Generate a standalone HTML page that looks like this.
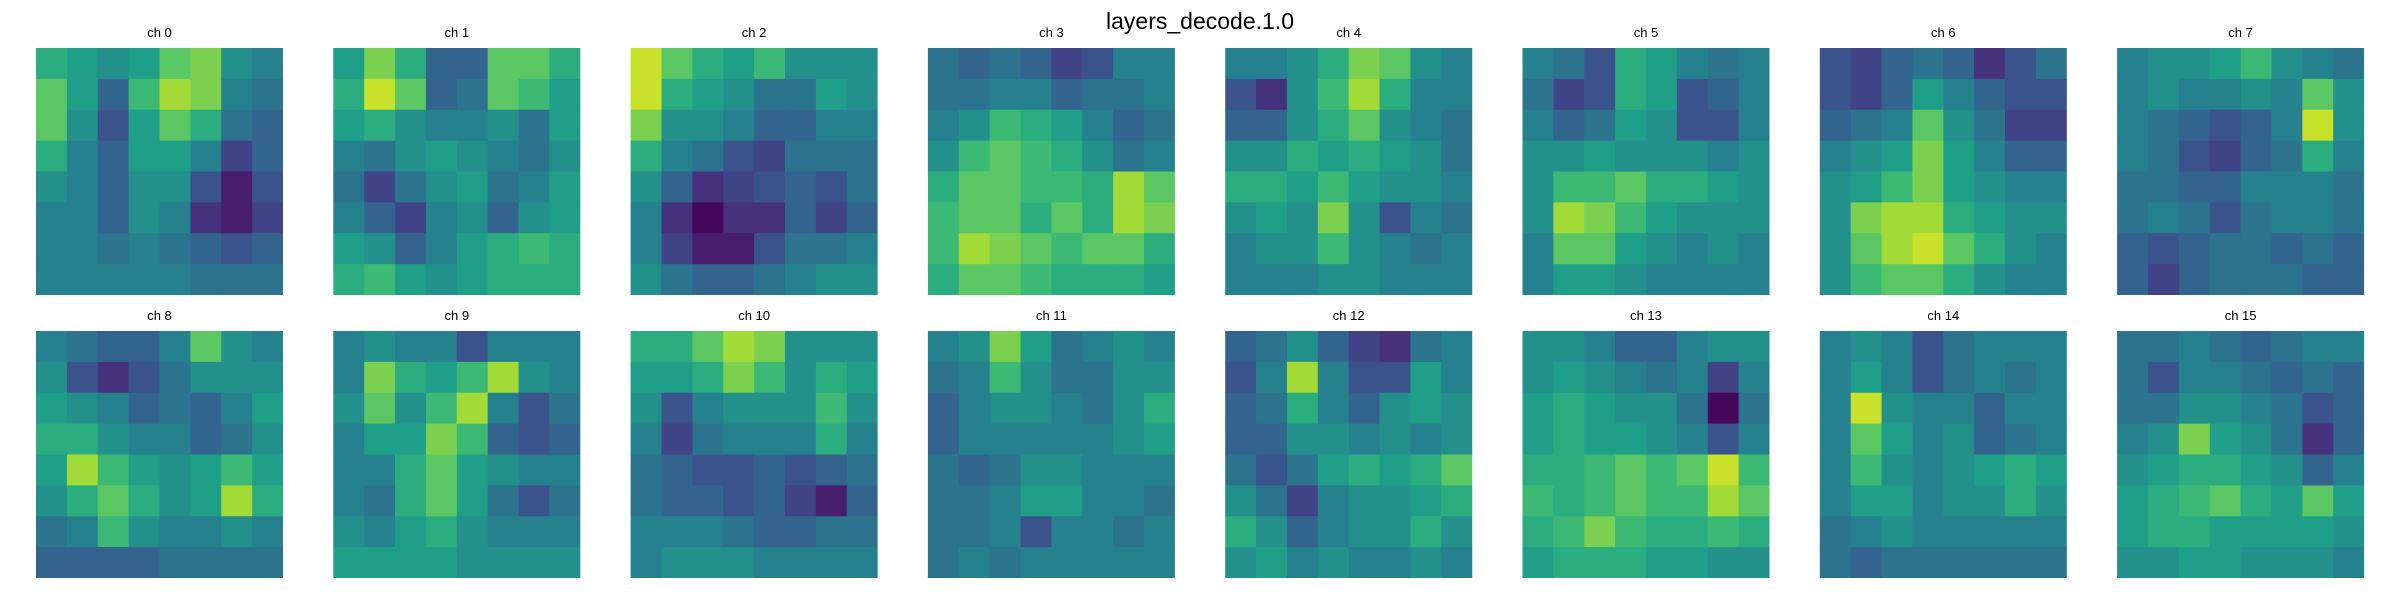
<!DOCTYPE html>
<html><head><meta charset="utf-8"><style>
html,body{margin:0;padding:0;background:#fff;width:2400px;height:600px;overflow:hidden}
svg{display:block;font-family:"Liberation Sans","DejaVu Sans",sans-serif}
</style></head><body>
<svg id="fig" width="2400" height="600" xmlns="http://www.w3.org/2000/svg">
<rect width="2400" height="600" fill="#fff"/>
<text x="1200" y="29" text-anchor="middle" font-size="23" fill="#000">layers_decode.1.0</text>
</svg>
<script>
const channelLabels = ["ch 0","ch 1","ch 2","ch 3","ch 4","ch 5","ch 6","ch 7","ch 8","ch 9","ch 10","ch 11","ch 12","ch 13","ch 14","ch 15"];
const ch0 = [[.6,.55,.5,.55,.7,.75,.5,.45],[.7,.55,.35,.65,.8,.75,.45,.4],[.7,.5,.3,.55,.7,.6,.4,.35],[.6,.45,.35,.55,.55,.45,.25,.35],[.5,.45,.35,.5,.5,.3,.15,.3],[.45,.45,.35,.5,.45,.2,.15,.25],[.45,.45,.4,.45,.4,.35,.3,.35],[.45,.45,.45,.45,.45,.4,.4,.4]];
const ch1 = [[.55,.75,.6,.35,.35,.7,.7,.6],[.6,.85,.7,.35,.4,.7,.65,.55],[.55,.6,.5,.45,.45,.5,.4,.55],[.45,.4,.5,.55,.5,.45,.4,.5],[.4,.25,.4,.5,.55,.4,.45,.55],[.45,.35,.25,.45,.5,.35,.5,.55],[.55,.5,.35,.45,.55,.6,.65,.6],[.6,.65,.55,.5,.55,.6,.6,.6]];
const ch2 = [[.85,.7,.6,.55,.65,.5,.5,.5],[.85,.6,.55,.5,.4,.4,.55,.5],[.75,.5,.5,.45,.35,.35,.45,.45],[.6,.45,.4,.3,.25,.4,.4,.4],[.5,.35,.2,.25,.3,.35,.3,.4],[.45,.2,.1,.2,.2,.35,.25,.35],[.45,.25,.15,.15,.3,.4,.4,.45],[.5,.4,.35,.35,.4,.45,.5,.5]];
const ch3 = [[.4,.35,.4,.35,.25,.3,.45,.45],[.4,.4,.45,.45,.35,.4,.4,.45],[.45,.5,.65,.6,.55,.45,.35,.4],[.5,.65,.7,.65,.6,.5,.4,.45],[.6,.7,.7,.65,.65,.6,.8,.7],[.65,.7,.7,.6,.7,.6,.8,.75],[.65,.8,.75,.7,.65,.7,.7,.6],[.6,.7,.7,.65,.6,.6,.6,.55]];
const ch4 = [[.45,.45,.5,.6,.75,.7,.5,.45],[.3,.2,.5,.65,.8,.6,.45,.45],[.35,.35,.5,.6,.7,.5,.45,.4],[.5,.5,.6,.55,.6,.55,.5,.4],[.6,.6,.55,.65,.55,.5,.5,.45],[.5,.55,.5,.75,.5,.3,.45,.4],[.45,.5,.5,.65,.5,.45,.4,.45],[.45,.45,.45,.5,.5,.45,.45,.45]];
const ch5 = [[.45,.4,.3,.6,.55,.45,.4,.45],[.4,.25,.3,.6,.55,.3,.35,.45],[.45,.35,.4,.55,.5,.3,.3,.45],[.5,.5,.55,.5,.5,.5,.45,.5],[.5,.65,.65,.7,.6,.6,.55,.5],[.5,.8,.75,.65,.55,.5,.5,.5],[.45,.7,.7,.55,.5,.45,.5,.45],[.45,.55,.55,.5,.45,.45,.45,.45]];
const ch6 = [[.3,.25,.35,.4,.35,.2,.3,.4],[.3,.25,.35,.55,.45,.35,.3,.3],[.35,.4,.45,.7,.5,.4,.25,.25],[.45,.5,.55,.75,.55,.45,.35,.35],[.5,.55,.65,.75,.55,.5,.45,.45],[.5,.75,.8,.8,.6,.55,.5,.5],[.5,.7,.8,.85,.7,.6,.5,.45],[.5,.65,.7,.7,.6,.5,.45,.45]];
const ch7 = [[.45,.5,.5,.55,.65,.5,.45,.4],[.45,.5,.45,.45,.5,.45,.7,.5],[.45,.4,.35,.3,.35,.45,.85,.5],[.45,.4,.3,.25,.35,.4,.6,.45],[.4,.4,.35,.35,.45,.45,.45,.4],[.4,.45,.4,.3,.4,.45,.45,.4],[.35,.3,.35,.4,.4,.35,.4,.35],[.35,.25,.35,.4,.4,.4,.35,.35]];
const ch8 = [[.45,.4,.35,.35,.45,.7,.5,.45],[.5,.3,.2,.3,.4,.5,.5,.5],[.55,.5,.45,.35,.4,.35,.45,.55],[.6,.6,.5,.45,.45,.35,.4,.5],[.55,.8,.65,.55,.5,.55,.65,.55],[.5,.6,.7,.6,.5,.55,.8,.6],[.4,.45,.65,.5,.45,.45,.5,.45],[.35,.35,.35,.35,.4,.4,.4,.4]];
const ch9 = [[.45,.5,.45,.45,.3,.45,.45,.45],[.45,.75,.6,.55,.65,.8,.5,.45],[.5,.7,.5,.65,.8,.45,.3,.4],[.45,.55,.55,.75,.65,.35,.3,.35],[.45,.45,.6,.7,.55,.5,.45,.45],[.45,.4,.6,.7,.55,.4,.3,.4],[.5,.45,.55,.6,.5,.45,.45,.45],[.55,.55,.55,.55,.5,.5,.5,.5]];
const ch10 = [[.6,.6,.7,.8,.75,.5,.5,.5],[.55,.55,.6,.75,.65,.5,.6,.55],[.5,.3,.45,.5,.5,.5,.65,.5],[.45,.25,.4,.45,.45,.45,.6,.45],[.4,.35,.3,.3,.35,.3,.35,.4],[.4,.35,.35,.3,.35,.25,.15,.35],[.45,.45,.45,.4,.35,.35,.4,.4],[.45,.5,.5,.5,.45,.45,.45,.45]];
const ch11 = [[.45,.5,.75,.55,.4,.45,.5,.45],[.4,.45,.65,.5,.4,.4,.5,.5],[.35,.45,.5,.5,.45,.4,.5,.6],[.35,.45,.45,.45,.45,.45,.5,.55],[.4,.35,.4,.5,.5,.45,.45,.45],[.4,.4,.45,.55,.55,.45,.45,.4],[.4,.4,.45,.3,.45,.45,.4,.45],[.4,.45,.4,.45,.45,.45,.45,.45]];
const ch12 = [[.35,.4,.5,.35,.25,.2,.4,.45],[.3,.45,.8,.45,.3,.3,.55,.45],[.35,.4,.6,.45,.35,.5,.55,.5],[.35,.35,.5,.5,.45,.5,.45,.5],[.4,.3,.4,.55,.6,.55,.6,.7],[.5,.4,.25,.45,.5,.5,.55,.6],[.6,.5,.35,.45,.5,.5,.6,.5],[.5,.55,.45,.5,.45,.45,.5,.45]];
const ch13 = [[.5,.5,.45,.35,.35,.45,.5,.5],[.5,.55,.5,.45,.4,.45,.25,.45],[.55,.6,.55,.5,.5,.4,.1,.4],[.55,.6,.55,.55,.5,.45,.3,.45],[.6,.6,.65,.7,.65,.7,.85,.65],[.65,.6,.65,.7,.65,.65,.8,.7],[.6,.65,.75,.65,.6,.6,.65,.6],[.55,.6,.6,.6,.55,.55,.5,.5]];
const ch14 = [[.45,.5,.45,.3,.4,.45,.45,.45],[.45,.55,.45,.3,.4,.45,.4,.45],[.45,.85,.5,.45,.45,.35,.45,.45],[.45,.7,.55,.45,.5,.35,.4,.45],[.45,.65,.5,.45,.5,.55,.6,.55],[.45,.55,.55,.45,.5,.5,.6,.5],[.4,.45,.5,.45,.45,.45,.45,.45],[.4,.35,.4,.4,.4,.4,.4,.4]];
const ch15 = [[.4,.4,.45,.4,.35,.4,.45,.45],[.4,.3,.45,.45,.4,.35,.4,.35],[.4,.4,.5,.5,.45,.4,.3,.35],[.45,.5,.75,.55,.5,.4,.2,.35],[.5,.55,.6,.6,.55,.5,.35,.45],[.55,.6,.65,.7,.6,.55,.7,.55],[.55,.6,.6,.55,.55,.55,.55,.5],[.5,.5,.55,.55,.5,.5,.5,.45]];
const channels = [ch0,ch1,ch2,ch3,ch4,ch5,ch6,ch7,ch8,ch9,ch10,ch11,ch12,ch13,ch14,ch15];

const VIR = [[68,1,84],[72,40,120],[62,74,137],[49,104,142],[38,130,142],[31,158,137],[53,183,121],[109,205,89],[180,222,44],[253,231,37]];
const CONTRAST = 1.2;
function viridis(v){
  v=0.5+(v-0.5)*CONTRAST;
  v=Math.max(0,Math.min(1,v))*(VIR.length-1);
  const i=Math.min(VIR.length-2,Math.floor(v)),f=v-i,a=VIR[i],b=VIR[i+1];
  return 'rgb('+[0,1,2].map(k=>Math.round(a[k]+(b[k]-a[k])*f)).join(',')+')';
}
const NS='http://www.w3.org/2000/svg';
const svg=document.getElementById('fig');
const X0=36, PITCH=297.3, SIZE=247, ROWY=[48,331];
function panelX(i){return X0+(i%8)*PITCH;}
function panelY(i){return ROWY[Math.floor(i/8)];}
channels.forEach((grid,i)=>{
  const g=document.createElementNS(NS,'g');
  
  
  const px=panelX(i), py=panelY(i), n=grid.length, m=grid[0].length;
  const cw=SIZE/m, chh=SIZE/n;
  grid.forEach((row,r)=>row.forEach((v,c)=>{
    const rc=document.createElementNS(NS,'rect');
    
    
    rc.setAttribute('x',(px+c*cw).toFixed(2));
    rc.setAttribute('y',(py+r*chh).toFixed(2));
    rc.setAttribute('width',(Math.min(cw+0.5, px+SIZE-(px+c*cw))).toFixed(2));
    rc.setAttribute('height',(Math.min(chh+0.5, py+SIZE-(py+r*chh))).toFixed(2));
    rc.setAttribute('fill',viridis(v));
    g.appendChild(rc);
  }));
  const t=document.createElementNS(NS,'text');
  
  
  t.setAttribute('x',(px+SIZE/2).toFixed(1));
  t.setAttribute('y',py-11);
  t.setAttribute('text-anchor','middle');
  t.setAttribute('font-size','13');
  t.textContent=channelLabels[i];
  g.appendChild(t);
  svg.appendChild(g);
});
</script>
</body></html>
